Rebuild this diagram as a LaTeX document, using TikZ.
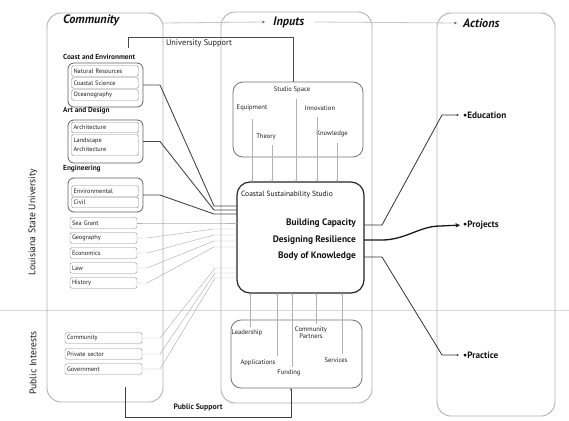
\documentclass[tikz,border=0pt]{standalone}
\usepackage{fontspec}
\setmainfont{PT Sans}
\usetikzlibrary{arrows.meta}
\begin{document}
\begin{tikzpicture}[x=1pt,y=-1pt,
  column/.style={draw=black!30,line width=0.9pt,rounded corners=14pt,inner sep=0pt,outer sep=0pt},
  group/.style={draw=black!62,line width=0.8pt,rounded corners=6pt,inner sep=0pt,outer sep=0pt},
  inbox/.style={draw=black!55,line width=0.8pt,rounded corners=10pt,inner sep=0pt,outer sep=0pt},
  core/.style={draw=black!85,line width=1.2pt,rounded corners=13pt,inner sep=0pt,outer sep=0pt},
  item/.style={draw=black!45,line width=0.45pt,rounded corners=1.5pt,minimum height=10.5pt,
    text width=63pt,inner xsep=2pt,inner ysep=0pt,outer sep=0pt,align=left,
    font=\fontsize{6.3}{6.8}\selectfont,text=black!88},
  head/.style={font=\fontsize{7.3}{8}\selectfont\bfseries,anchor=west,inner sep=0pt,text=black!90},
  title/.style={font=\fontsize{12.2}{13}\selectfont\bfseries\itshape,inner sep=0pt,text=black!92},
  lbl/.style={font=\fontsize{6.6}{7.2}\selectfont,inner sep=0pt,text=black!88,align=center},
  side/.style={font=\fontsize{9.6}{10}\selectfont,inner sep=0pt,text=black!90,rotate=90},
  strong/.style={draw=black!72,line width=0.9pt},
  faint/.style={draw=black!30,line width=0.45pt},
  feed/.style={draw=black!30,line width=0.4pt,-{Stealth[length=2.2pt,width=1.8pt]}},
  titlearrow/.style={draw=black!22,line width=0.8pt,-{Stealth[length=3pt,width=2.6pt,color=blue!70]}},
  link/.style={draw=black!80,line width=0.8pt},
  outcome/.style={font=\fontsize{9.2}{10}\selectfont\bfseries,anchor=west,inner sep=0pt,text=black!92},
  motto/.style={font=\fontsize{9.4}{10}\selectfont\bfseries,anchor=east,inner sep=0pt,text=black!92}
]
\useasboundingbox (0,0) rectangle (569,420);
\fill[white] (0,0) rectangle (569,420);

% faint divider between the university and the public rows
\draw[black!16,line width=0.9pt] (0,310) -- (569,310);

% the three columns
\node[column,minimum width=116pt,minimum height=389pt] (comm) at (105,207.5) {};
\node[column,minimum width=151pt,minimum height=391pt] (inp) at (296.5,207.5) {};
\node[column,minimum width=118pt,minimum height=403pt] (act) at (496,214.5) {};

% column titles
\node[title,anchor=west] (t-comm) at (63,20) {Community};
\node[title,anchor=west] (t-inp) at (273,22) {Inputs};
\node[title,anchor=west] (t-act) at (463,23) {Actions};
\draw[titlearrow] (comm.east |- 0,23) -- ([xshift=-8pt]t-inp.west);
\draw[titlearrow] ([xshift=10pt]t-inp.east) -- ([xshift=-6pt]t-act.west);

% side labels
\node[side] (lsu) at (33,222) {Louisiana State University};
\node[side] (pubint) at (33,363) {Public Interests};

% university groups
\node[head] (h1) at (63,57) {Coast and Environment};
\node[group,minimum width=75pt,minimum height=44pt] (g1) at (105.5,85) {};
\node[item] (i-nr) at (105,71) {Natural Resources};
\node[item] (i-cs) at (105,83) {Coastal Science};
\node[item] (i-oc) at (105,95) {Oceanography};

\node[head] (h2) at (63,111) {Art and Design};
\node[group,minimum width=75pt,minimum height=43pt] (g2) at (105.5,141.5) {};
\node[item] (i-ar) at (105,127.5) {Architecture};
\node[item,minimum height=21pt] (i-la) at (105,145) {Landscape\\[1.6pt]Architecture};

\node[head] (h3) at (63,169) {Engineering};
\node[group,minimum width=75pt,minimum height=34pt] (g3) at (105.5,195) {};
\node[item] (i-en) at (105,191) {Environmental};
\node[item] (i-ci) at (105,202.5) {Civil};

% single departments
\node[item] (i-sg) at (103.5,223) {Sea Grant};
\node[item] (i-ge) at (103.5,238) {Geography};
\node[item] (i-ec) at (103.5,253) {Economics};
\node[item] (i-lw) at (103.5,268) {Law};
\node[item] (i-hi) at (103.5,283) {History};

% public partners
\node[item,text width=73pt] (p-co) at (103.5,338) {Community};
\node[item,text width=73pt] (p-ps) at (103.5,354) {Private sector};
\node[item,text width=73pt] (p-go) at (103.5,369) {Government};

% studio core
\node[core,minimum width=127pt,minimum height=111pt] (css) at (300.5,237.5) {};
\node[font=\fontsize{7.5}{8}\selectfont,anchor=west,inner sep=0pt,text=black!92] (css-name) at (241,195) {Coastal Sustainability Studio};
\node[motto] (bc) at (356,223) {Building Capacity};
\node[motto] (dr) at (356,240) {Designing Resilience};
\node[motto] (bk) at (356,256) {Body of Knowledge};

% studio resources (canvas y points up, so a negative yshift moves below the label)
\node[inbox,minimum width=130pt,minimum height=75pt] (studio) at (298,119.5) {};
\node[lbl] (ss) at (292,90) {Studio Space};
\node[lbl] (eq) at (252,108) {Equipment};
\node[lbl] (inn) at (320,108) {Innovation};
\node[lbl] (th) at (266,137) {Theory};
\node[lbl] (kn) at (332,134) {Knowledge};
\draw[feed] ([yshift=-8pt]eq.south) -- (eq.south |- css.north);
\draw[feed] ([xshift=6pt,yshift=-5pt]th.south) -- ([xshift=6pt]th.south |- css.north);
\draw[feed] ([xshift=4pt,yshift=-6pt]ss.south) -- ([xshift=4pt]ss.south |- css.north);
\draw[feed] ([xshift=-3pt,yshift=-6pt]inn.south) -- ([xshift=-3pt]inn.south |- css.north);
\draw[feed] ([xshift=5pt,yshift=-6pt]kn.south) -- ([xshift=5pt]kn.south |- css.north);

% public resources
\node[inbox,minimum width=131pt,minimum height=68pt] (pubbox) at (296.5,354) {};
\node[lbl] (ld) at (247,333) {Leadership};
\node[lbl] (cp) at (311,333) {Community\\Partners};
\node[lbl] (ap) at (258,363) {Applications};
\node[lbl] (fu) at (289,373) {Funding};
\node[lbl] (sv) at (336,360) {Services};
\draw[feed] ([xshift=3pt,yshift=3pt]ld.north) -- ([xshift=3pt]ld.north |- css.south);
\draw[feed] ([xshift=19pt,yshift=4pt]ap.north) -- ([xshift=19pt]ap.north |- css.south);
\draw[feed] ([xshift=3pt,yshift=3pt]fu.north) -- ([xshift=3pt]fu.north |- css.south);
\draw[feed] ([xshift=5pt,yshift=3pt]cp.north) -- ([xshift=5pt]cp.north |- css.south);
\draw[feed] ([xshift=6pt,yshift=3pt]sv.north) -- ([xshift=6pt]sv.north |- css.south);

% university groups into the studio
\draw[strong] (g1.east) -- ++(17,0) -- (214,206) -- (css.west |- 0,206);
\draw[strong] (g2.east) -- ++(17,0) -- (214,210) -- (css.west |- 0,210);
\draw[strong] (g3.east) -- ++(17,0) -- (214,214) -- (css.west |- 0,214);

% single departments into the studio
\draw[faint] (i-sg.east) -- ++(10,0) -- (214,223) -- (css.west |- 0,223);
\draw[faint] (i-ge.east) -- ++(10,0) -- (214,229) -- (css.west |- 0,229);
\draw[faint] (i-ec.east) -- ++(10,0) -- (214,235) -- (css.west |- 0,235);
\draw[faint] (i-lw.east) -- ++(10,0) -- (214,241) -- (css.west |- 0,241);
\draw[faint] (i-hi.east) -- ++(10,0) -- (214,247) -- (css.west |- 0,247);

% public partners into the studio
\draw[faint] (p-co.east) -- ++(18,0) -- (215,268) -- (css.west |- 0,268);
\draw[faint] (p-ps.east) -- ++(18,0) -- (215,273) -- (css.west |- 0,273);
\draw[faint] (p-go.east) -- ++(18,0) -- (215,278) -- (css.west |- 0,278);

% university and public support loops
\coordinate (us) at (128,48);
\draw[draw=black!70,line width=0.7pt] (us) -- (128,37) -- (293,37) -- (studio.north -| 293,0);
\node[font=\fontsize{8.3}{9}\selectfont,inner sep=0pt,text=black!88] (us-lbl) at (199,43) {University Support};
\coordinate (ps) at (125,387);
\draw[draw=black!75,line width=0.8pt,-{Stealth[length=2.5pt,width=2pt]}] (ps) -- (125,417) -- (291,417) -- (pubbox.south -| 291,0);
\node[font=\fontsize{7.8}{9}\selectfont\bfseries,inner sep=0pt,text=black!88] (ps-lbl) at (198,407) {Public Support};

% outcomes
\node[outcome] (edu) at (463,115) {•Education};
\node[outcome] (proj) at (463,225) {•Projects};
\node[outcome] (prac) at (463,355) {•Practice};
\draw[link,-{Stealth[length=2.5pt,width=2.2pt]},shorten >=4pt] (css.east |- 0,225) -- (382,225) -- (442,115) -- (edu.west);
\draw[draw=black!90,line width=1.3pt,-{Stealth[length=4.5pt,width=4.5pt]},shorten >=3pt] (css.east |- 0,240) -- (382,240) .. controls (405,240) and (420,226) .. (440,226) -- (proj.west);
\draw[link,-{Stealth[length=2.5pt,width=2.2pt]},shorten >=4pt] (css.east |- 0,257) -- (382,257) -- (442,355) -- (prac.west);
\end{tikzpicture}
\end{document}
